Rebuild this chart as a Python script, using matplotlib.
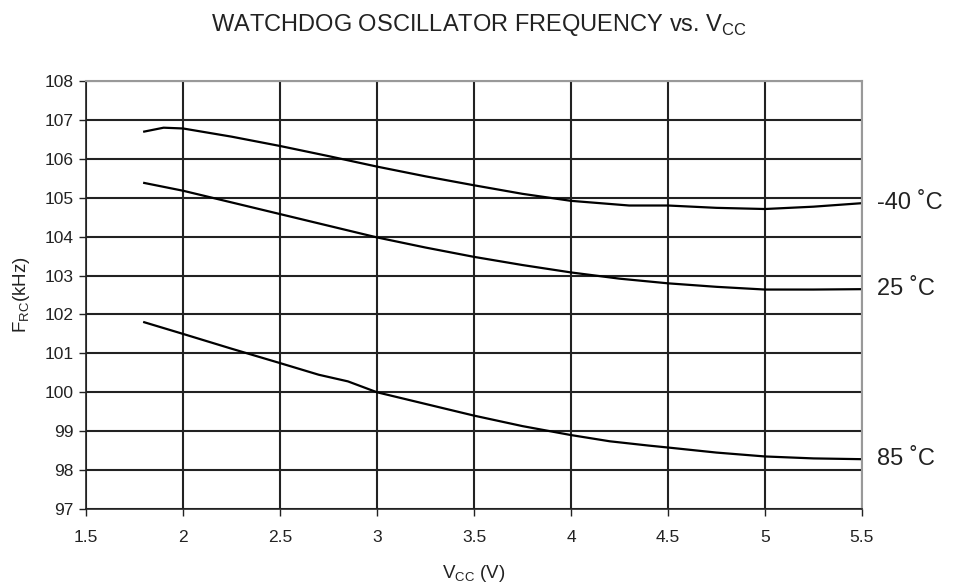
import matplotlib
matplotlib.use("Agg")
import matplotlib.pyplot as plt

plt.rcParams['font.family'] = ['Liberation Sans', 'DejaVu Sans']
plt.rcParams['mathtext.fontset'] = 'custom'
plt.rcParams['mathtext.rm'] = 'Liberation Sans'

# supply voltage (V)
vcc_m40 = [1.8, 1.9, 2.0, 2.25, 2.5, 2.75, 3.0, 3.25, 3.5, 3.75, 4.0, 4.3, 4.5, 4.75, 5.0, 5.25, 5.5]
f_m40 = [106.7, 106.8, 106.78, 106.57, 106.33, 106.07, 105.8, 105.55, 105.32, 105.1, 104.92, 104.8, 104.8, 104.74, 104.71, 104.77, 104.86]

vcc_25 = [1.8, 2.0, 2.25, 2.5, 2.75, 3.0, 3.25, 3.5, 3.75, 4.0, 4.25, 4.5, 4.75, 5.0, 5.25, 5.5]
f_25 = [105.38, 105.18, 104.88, 104.58, 104.28, 103.98, 103.72, 103.48, 103.27, 103.08, 102.92, 102.8, 102.71, 102.64, 102.64, 102.65]

vcc_85 = [1.8, 2.0, 2.25, 2.5, 2.7, 2.85, 3.0, 3.25, 3.5, 3.75, 4.0, 4.2, 4.4, 4.5, 4.75, 5.0, 5.25, 5.5]
f_85 = [101.8, 101.5, 101.12, 100.75, 100.45, 100.28, 100.0, 99.7, 99.4, 99.13, 98.9, 98.74, 98.63, 98.58, 98.45, 98.35, 98.3, 98.28]

labels = ['-40 \u02daC', '25 \u02daC', '85 \u02daC']
xticks = [1.5, 2, 2.5, 3, 3.5, 4, 4.5, 5, 5.5]
yticks = list(range(97, 109))

fig = plt.figure(figsize=(9.59, 5.87), dpi=100)
ax = fig.add_axes([0.0897, 0.1329, 0.8091, 0.7291])

ax.set_xlim(1.5, 5.5)
ax.set_ylim(97, 108)
ax.set_xticks(xticks)
ax.set_xticklabels([f'{t:g}' for t in xticks])
ax.set_yticks(yticks)
ax.grid(True, color='#222222', linewidth=1.5)
ax.set_axisbelow(True)

for xs, ys in [(vcc_m40, f_m40), (vcc_25, f_25), (vcc_85, f_85)]:
    ax.plot(xs, ys, color='black', linewidth=1.6)

for ys, lab in zip([f_m40, f_25, f_85], labels):
    ax.annotate(lab, xy=(5.5, ys[-1]), xytext=(11, 0), textcoords='offset points',
                va='center', ha='left', fontsize=17, color='#222222',
                annotation_clip=False)

for side in ['top', 'right']:
    ax.spines[side].set_color('#999999')
    ax.spines[side].set_linewidth(1.5)
for side in ['left', 'bottom']:
    ax.spines[side].set_color('#222222')
    ax.spines[side].set_linewidth(1.2)

ax.tick_params(direction='out', length=5, width=1, labelsize=12.5, colors='#222222', pad=10)
ax.tick_params(axis='y', pad=4)

ax.set_xlabel(r'V$_{\mathregular{CC}}$ (V)', fontsize=13.5, color='#222222', labelpad=13)
ax.set_ylabel(r'F$_{\mathregular{RC}}$(kHz)', fontsize=13.5, color='#222222', labelpad=9)
fig.suptitle(r'WATCHDOG OSCILLATOR FREQUENCY vs. V$_{\mathregular{CC}}$',
             x=0.5, y=0.98, fontsize=17, color='#222222')

fig.savefig('out.png', dpi=100)
